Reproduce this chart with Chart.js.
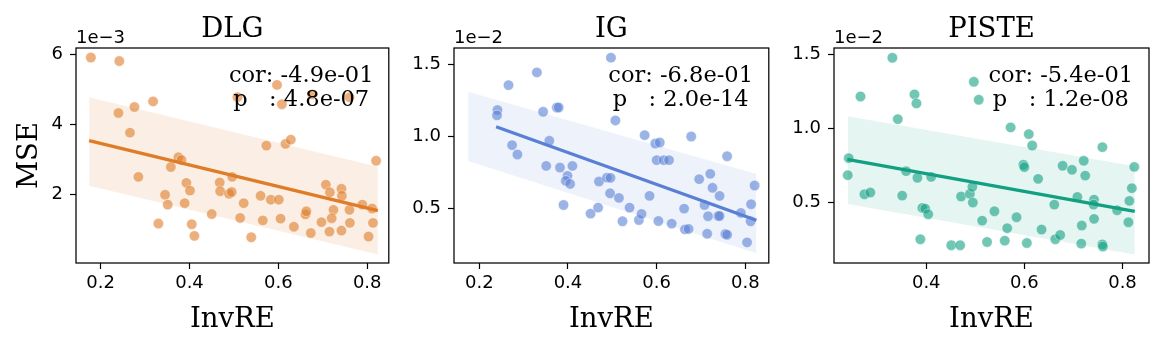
<!DOCTYPE html>
<html><head><meta charset="utf-8">
<script src="https://cdn.jsdelivr.net/npm/chart.js@4.4.1/dist/chart.umd.min.js"></script>
<style>
html,body{margin:0;padding:0;background:#fff;width:1163px;height:347px;overflow:hidden}
canvas{position:absolute;top:0}
</style></head><body>
<canvas id="c1" width="395" height="347" style="left:0px"></canvas>
<canvas id="c2" width="380" height="347" style="left:395px"></canvas>
<canvas id="c3" width="388" height="347" style="left:775px"></canvas>
<script>
// ---------- DATA (MSE values shown in units of the axis offset: 1e-3 for DLG, 1e-2 for IG / PISTE) ----------
const titles = ['DLG', 'IG', 'PISTE'];
const xLabel = 'InvRE';
const yLabel = 'MSE';
const offsetLabels = ['1e\u22123', '1e\u22122', '1e\u22122'];
const corLabels = ['cor: -4.9e-01', 'cor: -6.8e-01', 'cor: -5.4e-01'];
const pLabels = ['p   : 4.8e-07', 'p   : 2.0e-14', 'p   : 1.2e-08'];

const DLG_x = [0.178,0.242,0.597,0.508,0.676,0.760,0.608,0.240,0.276,0.318,0.266,0.573,0.616,0.628,0.820,0.375,0.382,0.358,0.285,0.393,0.401,0.345,0.351,0.389,0.330,0.405,0.411,0.450,0.468,0.469,0.496,0.489,0.495,0.522,0.514,0.539,0.560,0.565,0.583,0.601,0.605,0.635,0.661,0.663,0.673,0.697,0.707,0.716,0.742,0.743,0.724,0.720,0.715,0.742,0.760,0.761,0.789,0.811,0.813,0.803];
const DLG_y = [5.90,5.80,5.12,4.77,4.85,4.77,4.57,4.32,4.49,4.65,3.76,3.39,3.44,3.56,2.96,3.06,2.98,2.78,2.50,2.33,2.11,1.99,1.71,1.75,1.17,1.15,0.82,1.44,2.34,2.09,2.50,2.02,2.07,1.75,1.33,0.78,1.96,1.26,1.85,1.85,1.31,1.08,1.43,1.52,0.90,1.21,2.28,2.06,2.16,1.96,1.56,1.32,0.94,0.97,1.56,1.19,1.71,1.60,1.19,0.80];
const DLG_fitX = [0.174, 0.824];
const DLG_fitY = [3.53, 1.54];
const DLG_bandX = [0.174, 0.824];
const DLG_bandUpper = [4.77, 2.79];
const DLG_bandLower = [2.25, 0.29];

const IG_x = [0.497,0.330,0.266,0.241,0.240,0.344,0.375,0.379,0.507,0.274,0.286,0.358,0.351,0.382,0.410,0.399,0.395,0.405,0.390,0.451,0.468,0.470,0.488,0.496,0.495,0.515,0.523,0.539,0.560,0.566,0.584,0.573,0.597,0.607,0.600,0.616,0.628,0.604,0.634,0.662,0.664,0.672,0.678,0.696,0.721,0.726,0.742,0.708,0.716,0.739,0.742,0.714,0.759,0.755,0.759,0.790,0.813,0.821,0.812,0.804];
const IG_y = [1.546,1.444,1.356,1.183,1.146,1.171,1.201,1.201,1.111,0.940,0.875,0.970,0.796,0.785,0.796,0.727,0.692,0.671,0.525,0.465,0.507,0.688,0.715,0.713,0.606,0.574,0.412,0.507,0.421,0.463,0.588,1.009,0.951,0.958,0.836,0.836,0.836,0.414,0.396,0.500,0.356,0.359,1.000,0.704,0.741,0.644,0.588,0.525,0.447,0.449,0.449,0.326,0.863,0.324,0.319,0.470,0.530,0.660,0.412,0.266];
const IG_fitX = [0.238, 0.825];
const IG_fitY = [1.067, 0.419];
const IG_bandX = [0.175, 0.825];
const IG_bandUpper = [1.31, 0.74];
const IG_bandLower = [0.83, 0.19];

const PISTE_x = [0.331,0.266,0.376,0.380,0.342,0.497,0.507,0.572,0.609,0.616,0.759,0.242,0.240,0.359,0.382,0.410,0.274,0.286,0.351,0.392,0.398,0.404,0.388,0.451,0.469,0.471,0.489,0.494,0.495,0.514,0.539,0.565,0.584,0.524,0.560,0.605,0.598,0.600,0.628,0.635,0.661,0.663,0.673,0.678,0.697,0.721,0.724,0.708,0.717,0.742,0.741,0.742,0.716,0.759,0.760,0.789,0.814,0.819,0.824,0.812];
const PISTE_y = [1.477,1.216,1.230,1.169,1.063,1.315,1.194,1.007,0.962,0.885,0.874,0.800,0.685,0.712,0.667,0.673,0.556,0.568,0.547,0.464,0.459,0.421,0.252,0.212,0.212,0.541,0.559,0.606,0.500,0.378,0.441,0.327,0.401,0.234,0.243,0.227,0.755,0.739,0.660,0.318,0.486,0.252,0.281,0.748,0.721,0.782,0.682,0.538,0.345,0.520,0.486,0.390,0.223,0.218,0.203,0.448,0.511,0.597,0.741,0.367];
const PISTE_fitX = [0.239, 0.825];
const PISTE_fitY = [0.791, 0.440];
const PISTE_bandX = [0.240, 0.825];
const PISTE_bandUpper = [1.083, 0.745];
const PISTE_bandLower = [0.491, 0.149];

// axis ranges and ticks
const xRanges = [[0.1445, 0.8486], [0.143, 0.853], [0.212, 0.854]];
const yRanges = [[0.046, 6.171], [0.123, 1.613], [0.092, 1.543]];
const xTicks = [[0.2, 0.4, 0.6, 0.8], [0.2, 0.4, 0.6, 0.8], [0.4, 0.6, 0.8]];
const xTickLabels = [['0.2','0.4','0.6','0.8'], ['0.2','0.4','0.6','0.8'], ['0.4','0.6','0.8']];
const yTicks = [[2, 4, 6], [0.5, 1.0, 1.5], [0.5, 1.0, 1.5]];
const yTickLabels = [['2','4','6'], ['0.5','1.0','1.5'], ['0.5','1.0','1.5']];

// ---------- STYLE ----------
const colors = [[224,123,40], [90,128,214], [18,160,130]];
const bandAlpha = [0.12, 0.1, 0.11];
const layoutCfg = [
  {id:'c1', yWidth:76, right:6, ylabel:true},
  {id:'c2', yWidth:59, right:5, ylabel:false},
  {id:'c3', yWidth:59, right:14, ylabel:false}
];

const zip = (xs, ys) => xs.map((x, i) => ({x: x, y: ys[i]}));
const seriesX = [DLG_x, IG_x, PISTE_x];
const seriesY = [DLG_y, IG_y, PISTE_y];
const fits = [[DLG_fitX, DLG_fitY], [IG_fitX, IG_fitY], [PISTE_fitX, PISTE_fitY]];
const bands = [[DLG_bandX, DLG_bandUpper, DLG_bandLower], [IG_bandX, IG_bandUpper, IG_bandLower], [PISTE_bandX, PISTE_bandUpper, PISTE_bandLower]];

const deco = {
  id: 'deco',
  afterDraw(chart, args, o) {
    const ctx = chart.ctx, a = chart.chartArea;
    ctx.save();
    ctx.strokeStyle = '#000';
    ctx.lineWidth = 1.25;
    ctx.strokeRect(a.left, a.top, a.right - a.left, a.bottom - a.top);
    ctx.fillStyle = '#000';
    const cx = (a.left + a.right) / 2;
    ctx.font = '27.5px "DejaVu Serif"';
    ctx.textAlign = 'center';
    ctx.textBaseline = 'alphabetic';
    ctx.fillText(o.title, cx, 36.7);
    ctx.fillText(o.xlabel, cx, 326.7);
    if (o.ylabel) {
      ctx.save();
      ctx.translate(36.7, (a.top + a.bottom) / 2);
      ctx.rotate(-Math.PI / 2);
      ctx.fillText(o.ylabel, 0, 0);
      ctx.restore();
    }
    ctx.font = '18px "DejaVu Sans"';
    ctx.textAlign = 'left';
    ctx.fillText(o.offset, a.left, 42.7);
    ctx.font = '22.5px "DejaVu Serif"';
    ctx.textAlign = 'center';
    const ax = a.left + 0.72 * (a.right - a.left);
    ctx.fillText(o.cor, ax, 81.7);
    ctx.fillText(o.p, ax, 106);
    ctx.restore();
  }
};

for (let k = 0; k < 3; k++) {
  const c = colors[k];
  const rgba = (al) => `rgba(${c[0]},${c[1]},${c[2]},${al})`;
  const L = layoutCfg[k];
  const [bx, bu, bl] = bands[k];
  new Chart(document.getElementById(L.id), {
    type: 'scatter',
    data: {
      datasets: [
        {type:'line', data: zip(bx, bl), borderWidth:0, pointRadius:0, fill:false, order:3},
        {type:'line', data: zip(bx, bu), borderWidth:0, pointRadius:0, fill:0, backgroundColor: rgba(bandAlpha[k]), order:3},
        {type:'scatter', data: zip(seriesX[k], seriesY[k]), pointRadius:5.2,
          backgroundColor: rgba(0.6), borderColor: 'rgba(255,255,255,0.4)', borderWidth:1, order:1},
        {type:'line', data: zip(fits[k][0], fits[k][1]), borderColor: rgba(1), borderWidth:3.3,
          pointRadius:0, fill:false, order:0}
      ]
    },
    options: {
      responsive: false,
      animation: false,
      events: [],
      layout: {padding: {top: 48, right: L.right, bottom: 0, left: 0}},
      plugins: {
        legend: {display:false},
        tooltip: {enabled:false},
        deco: {title: titles[k], xlabel: xLabel, ylabel: L.ylabel ? yLabel : '',
               offset: offsetLabels[k], cor: corLabels[k], p: pLabels[k]}
      },
      scales: {
        x: {
          type: 'linear', min: xRanges[k][0], max: xRanges[k][1],
          afterFit: s => { s.height = 84; },
          afterBuildTicks: s => { s.ticks = xTicks[k].map(v => ({value: v})); },
          ticks: {color:'#000', font:{family:'DejaVu Sans', size:18}, padding:4,
                  callback: (v) => xTickLabels[k][xTicks[k].indexOf(v)]},
          grid: {drawOnChartArea:false, drawTicks:true, tickLength:6, tickWidth:1.2, tickColor:'#000'},
          border: {display:false}
        },
        y: {
          type: 'linear', min: yRanges[k][0], max: yRanges[k][1],
          afterFit: s => { s.width = L.yWidth; },
          afterBuildTicks: s => { s.ticks = yTicks[k].map(v => ({value: v})); },
          ticks: {color:'#000', font:{family:'DejaVu Sans', size:18}, padding:7,
                  callback: (v) => yTickLabels[k][yTicks[k].indexOf(v)]},
          grid: {drawOnChartArea:false, drawTicks:true, tickLength:6, tickWidth:1.2, tickColor:'#000'},
          border: {display:false}
        }
      }
    },
    plugins: [deco]
  });
}
</script>
</body></html>
